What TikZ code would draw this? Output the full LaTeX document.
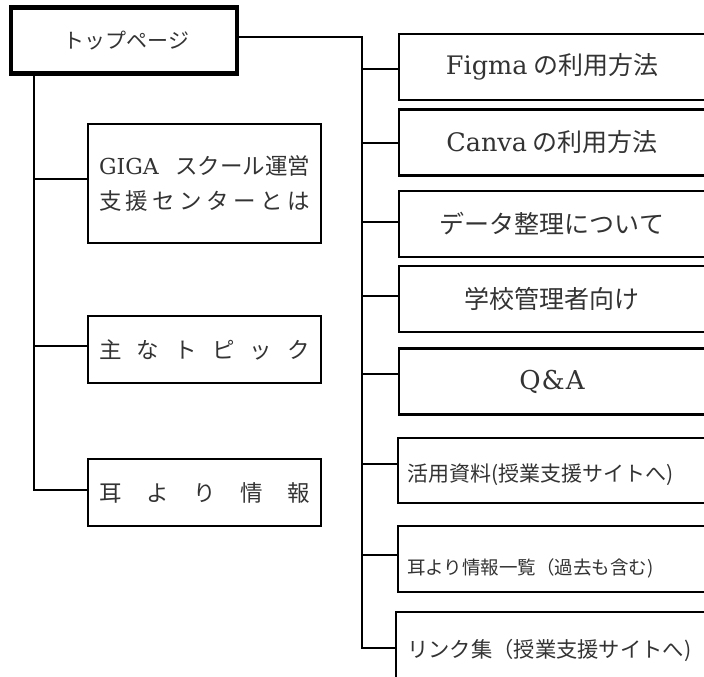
\documentclass[tikz,border=0pt]{standalone}
\usepackage{fontspec}
\newfontfamily\cjk{Noto Sans CJK JP}
\newfontfamily\latf{DejaVu Serif}
\newcommand\lat[2]{{\latf\fontsize{#1}{30}\selectfont #2}}
\begin{document}
\begin{tikzpicture}[x=1pt,y=-1pt,
  every node/.style={inner sep=0pt, text=black!80},
  topbox/.style={draw, line width=4.5pt, minimum width=226pt, minimum height=66pt,
    font=\cjk\fontsize{21}{26}\selectfont},
  lbox/.style={draw, line width=2.6pt, minimum width=233pt, minimum height=67pt,
    font=\cjk\fontsize{22.5}{35}\selectfont},
  rbox/.style={draw, line width=2.8pt, minimum width=306pt, minimum height=66pt,
    font=\cjk\fontsize{25}{30}\selectfont},
  stext/.style={anchor=west, font=\cjk\fontsize{21}{24}\selectfont},
  conn/.style={line width=1.3pt, line cap=rect}
]
\useasboundingbox (0,0) rectangle (704,677);
\clip (0,0) rectangle (704,677);

% top node
\node[topbox] (top) at (124,40.5) {\hspace*{5pt}トップページ};

% left column
\node[lbox, minimum height=119pt, align=left] (g) at (204.5,183.5)
  {\makebox[211pt][s]{\lat{22}{GIGA}\hfill スクール運営}\\
   \makebox[211pt][s]{支\hfill 援\hfill セ\hfill ン\hfill タ\hfill ー\hfill と\hfill は}};
\node[lbox] (m) at (204.5,349.5)
  {\makebox[211pt][s]{主\hfill な\hfill ト\hfill ピ\hfill ッ\hfill ク}};
\node[lbox] (n) at (204.5,492.5)
  {\makebox[211pt][s]{耳\hfill よ\hfill り\hfill 情\hfill 報}};

% right column
\node[rbox] (b1) at (552,67)    {\lat{25.5}{Figma} の利用方法};
\node[rbox] (b2) at (552,142.5) {\lat{25.5}{Canva} の利用方法};
\node[rbox] (b3) at (552,224)   {データ整理について};
\node[rbox] (b4) at (552,299)   {学校管理者向け};
\node[rbox] (b5) at (552,381.5) {\lat{26}{Q\kern1pt\&\kern1pt A}};
\node[rbox, minimum width=307pt, minimum height=65pt] (b6) at (551.5,470.5) {};
\node[rbox, minimum width=307pt] (b7) at (551.5,559) {};
\node[rbox, minimum width=309pt] (b8) at (550.5,645) {};

\node[stext] (t6) at (407,475) {活用資料(授業支援サイトへ)};
\node[stext, font=\cjk\fontsize{18.5}{24}\selectfont] (t7) at (407,568) {耳より情報一覧（過去も含む)};
\node[stext, font=\cjk\fontsize{21.3}{24}\selectfont] (t8) at (407,650) {リンク集（授業支援サイトへ)};

% right spine
\coordinate (rt) at (362,37);
\coordinate (r1) at (362,69);
\coordinate (r2) at (362,143);
\coordinate (r3) at (362,222);
\coordinate (r4) at (362,296);
\coordinate (r5) at (362,374);
\coordinate (r6) at (362,464);
\coordinate (r7) at (362,555);
\coordinate (r8) at (362,648);
\draw[conn] (top.east |- rt) -- (rt) -- (r8);
\foreach \i in {1,...,8} \draw[conn] (r\i) -- (r\i -| b\i.west);

% left spine
\coordinate (l1) at (34,179);
\coordinate (l2) at (34,346);
\coordinate (l3) at (34,490);
\draw[conn] (l1 |- top.south) -- (l3);
\draw[conn] (l1) -- (l1 -| g.west);
\draw[conn] (l2) -- (l2 -| m.west);
\draw[conn] (l3) -- (l3 -| n.west);
\end{tikzpicture}
\end{document}
